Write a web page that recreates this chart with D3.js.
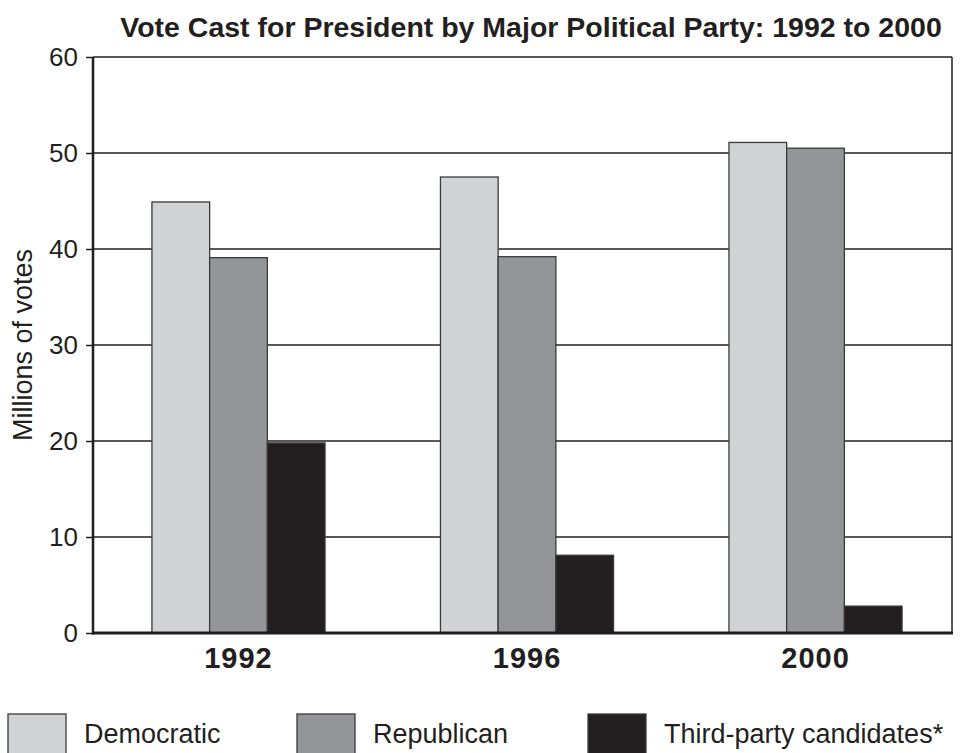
<!DOCTYPE html>
<html>
    <head>
        <script src="https://d3js.org/d3.v7.min.js"></script>
        <style>
            body { margin: 0; background: #fff; }
            text { font-family: "Liberation Sans", Arial, sans-serif; fill: #231f20; }
        </style>
    </head>
    <body>
        <script>
            // chart values (millions of votes)
            var years = ["1992", "1996", "2000"];
            var parties = ["Democratic", "Republican", "Third-party candidates*"];
            var democratic = [44.9, 47.5, 51.1];
            var republican = [39.1, 39.2, 50.5];
            var thirdParty = [19.8, 8.1, 2.8];
            var yTicks = [0, 10, 20, 30, 40, 50, 60];
            var colors = ["#d1d2d4", "#939598", "#231f20"];

            var width = 969;
            var height = 753;
            //plot box edges (window.top is taken, so use other names)
            var plotLeft = 93, plotRight = 952, plotTop = 57, plotBottom = 633;

            var svg = d3.select('body').append('svg')
                    .attr('width', width)
                    .attr('height', height);

            var y = d3.scaleLinear().domain([0, 60]).range([plotBottom, plotTop]);

            var x = d3.scaleBand()
                    .domain(years)
                    .range([100, 954])
                    .paddingInner(0.4)
                    .paddingOuter(0.18);

            var xSub = d3.scaleBand()
                    .domain(parties)
                    .range([0, x.bandwidth()]);

            //Rows for each year:
            var rows = years.map(function (yr, i) {
                return [democratic[i], republican[i], thirdParty[i]].map(function (v, j) {
                    return {year: yr, party: parties[j], value: v, color: colors[j]};
                });
            });

            //grid lines
            svg.append('g')
                    .selectAll('line')
                    .data(yTicks.filter(function (d) { return d > 0; }))
                    .enter()
                    .append('line')
                    .attr('x1', plotLeft).attr('x2', plotRight)
                    .attr('y1', function (d) { return y(d); })
                    .attr('y2', function (d) { return y(d); })
                    .attr('stroke', '#231f20')
                    .attr('stroke-width', 1.5);

            //bars
            var g = svg.selectAll('g.year')
                    .data(rows)
                    .enter()
                    .append('g')
                    .attr('class', 'year')
                    .attr('transform', function (d) {
                        return 'translate(' + x(d[0].year) + ',0)';
                    });

            g.selectAll('rect')
                    .data(function (d) { return d; })
                    .enter()
                    .append('rect')
                    .attr('x', function (d) { return xSub(d.party); })
                    .attr('y', function (d) { return y(d.value); })
                    .attr('width', xSub.bandwidth())
                    .attr('height', function (d) { return y(0) - y(d.value); })
                    .style('fill', function (d) { return d.color; })
                    .attr('stroke', '#3a3a3c')
                    .attr('stroke-width', 1.3);

            //right border
            svg.append('line')
                    .attr('x1', plotRight).attr('x2', plotRight)
                    .attr('y1', plotTop).attr('y2', plotBottom)
                    .attr('stroke', '#231f20').attr('stroke-width', 1.5);

            //y axis
            var yAxis = svg.append('g')
                    .attr('transform', 'translate(' + plotLeft + ',0)')
                    .call(d3.axisLeft(y).tickValues(yTicks).tickSize(7).tickPadding(8));
            yAxis.select('.domain').remove();
            yAxis.selectAll('.tick line').attr('stroke', '#231f20').attr('stroke-width', 1.5);
            yAxis.selectAll('.tick text')
                    .style('font-size', '26px')
                    .style('font-family', '"Liberation Sans", Arial, sans-serif')
                    .attr('fill', '#231f20');

            svg.append('line')
                    .attr('x1', plotLeft).attr('x2', plotLeft)
                    .attr('y1', plotTop).attr('y2', plotBottom + 1.5)
                    .attr('stroke', '#231f20').attr('stroke-width', 2.5);

            //x axis
            var xAxis = svg.append('g')
                    .attr('transform', 'translate(0,' + plotBottom + ')')
                    .call(d3.axisBottom(x).tickSize(0).tickPadding(14));
            xAxis.select('.domain').remove();
            xAxis.selectAll('.tick text')
                    .style('font-size', '29px')
                    .style('font-weight', 'bold')
                    .style('letter-spacing', '1px')
                    .style('font-family', '"Liberation Sans", Arial, sans-serif')
                    .attr('fill', '#231f20')
                    .attr('dy', '0.71em');

            svg.append('line')
                    .attr('x1', plotLeft - 1).attr('x2', plotRight + 1)
                    .attr('y1', plotBottom).attr('y2', plotBottom)
                    .attr('stroke', '#231f20').attr('stroke-width', 3);

            //title and y label
            svg.append('text')
                    .attr('x', 531).attr('y', 37)
                    .attr('text-anchor', 'middle')
                    .style('font-size', '28.5px')
                    .style('font-weight', 'bold')
                    .text('Vote Cast for President by Major Political Party: 1992 to 2000');

            svg.append('text')
                    .attr('transform', 'translate(32,345) rotate(-90)')
                    .attr('text-anchor', 'middle')
                    .style('font-size', '27px')
                    .text('Millions of votes');

            //legend
            var legendX = [8, 297, 588];
            var legend = svg.selectAll('g.legend')
                    .data(parties)
                    .enter()
                    .append('g')
                    .attr('class', 'legend')
                    .attr('transform', function (d, i) {
                        return 'translate(' + legendX[i] + ',714)';
                    });
            legend.append('rect')
                    .attr('width', 58).attr('height', 42)
                    .style('fill', function (d, i) { return colors[i]; })
                    .attr('stroke', '#3a3a3c').attr('stroke-width', 1.3);
            legend.append('text')
                    .attr('x', 76).attr('y', 29)
                    .style('font-size', '27px')
                    .text(function (d) { return d; });
        </script>
    </body>
</html>
